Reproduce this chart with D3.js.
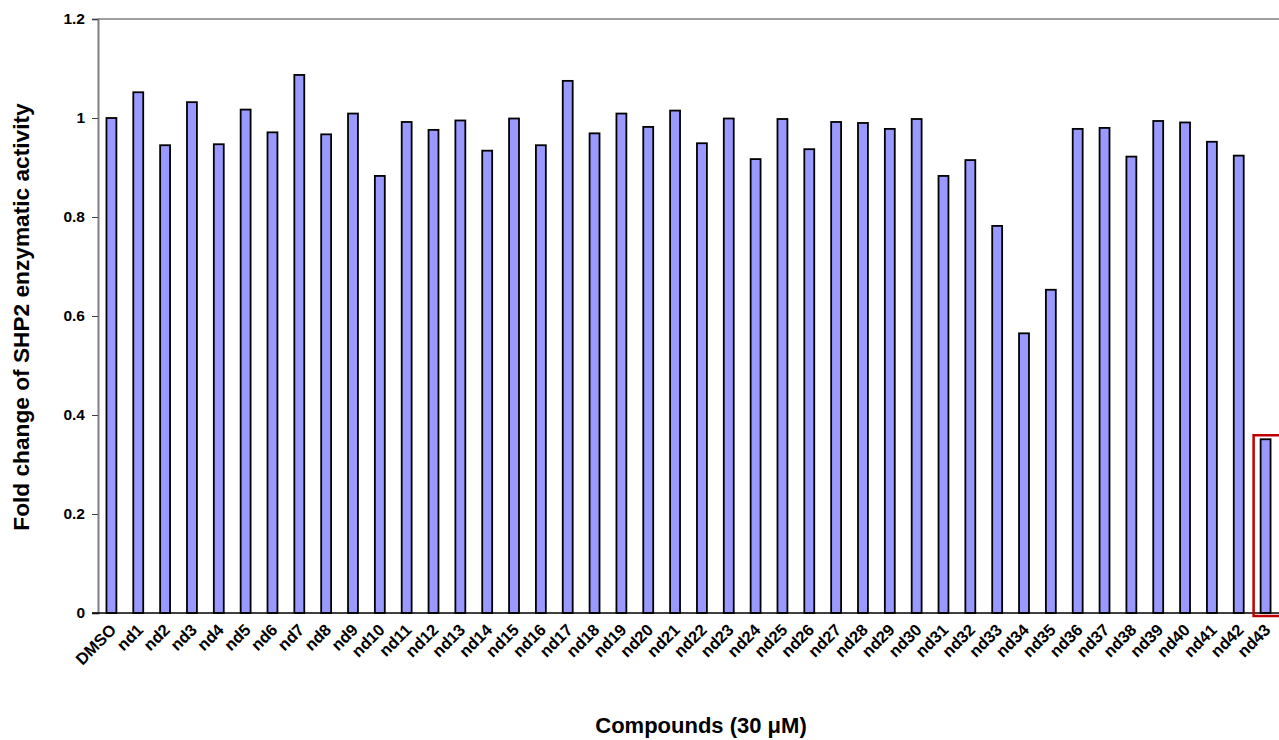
<!DOCTYPE html>
<html><head><meta charset="utf-8">
<script src="https://cdn.jsdelivr.net/npm/d3@7"></script>
<style>
body{margin:0;background:#fff;}
text{font-family:"Liberation Sans",Arial,sans-serif;font-weight:bold;}
</style></head>
<body><svg id="c" width="1279" height="740"></svg>
<script>
const categories = ["DMSO","nd1","nd2","nd3","nd4","nd5","nd6","nd7","nd8","nd9","nd10","nd11","nd12","nd13","nd14","nd15","nd16","nd17","nd18","nd19","nd20","nd21","nd22","nd23","nd24","nd25","nd26","nd27","nd28","nd29","nd30","nd31","nd32","nd33","nd34","nd35","nd36","nd37","nd38","nd39","nd40","nd41","nd42","nd43"];
const values = [1.000,1.052,0.945,1.032,0.947,1.017,0.971,1.087,0.967,1.009,0.883,0.992,0.976,0.995,0.934,0.999,0.945,1.075,0.969,1.009,0.982,1.015,0.949,0.999,0.917,0.998,0.937,0.992,0.990,0.978,0.998,0.883,0.915,0.782,0.565,0.653,0.978,0.980,0.922,0.994,0.991,0.952,0.924,0.351];
const yTicks = [0,0.2,0.4,0.6,0.8,1,1.2];
const highlighted = ["nd43"];

const svg = d3.select("#c");
const mLeft = 98, mRight = 1279, mTop = 19, mBottom = 613;
const x = d3.scaleBand().domain(categories).range([mLeft, mRight]).paddingInner(0.63).paddingOuter(0.315);
const y = d3.scaleLinear().domain([0,1.2]).range([mBottom, mTop]);

// top frame line
svg.append("line").attr("x1",mLeft).attr("x2",mRight).attr("y1",mTop).attr("y2",mTop)
  .attr("stroke","#808080").attr("stroke-width",1.5);

// y axis
const ya = svg.append("g").attr("transform",`translate(${mLeft},0)`)
  .call(d3.axisLeft(y).tickValues(yTicks).tickSize(6).tickPadding(7).tickFormat(d3.format("")));
ya.select(".domain").attr("stroke","#808080").attr("stroke-width",2);
ya.selectAll(".tick line").attr("stroke","#404040").attr("stroke-width",1);
ya.selectAll(".tick text").attr("font-size",15.5).attr("fill","#000");

// bars
svg.append("g").selectAll("rect").data(values).join("rect")
  .attr("x",(d,i)=>x(categories[i]))
  .attr("y",d=>y(d))
  .attr("width",x.bandwidth())
  .attr("height",d=>y(0)-y(d))
  .attr("fill","#9999ff").attr("stroke","#000").attr("stroke-width",1.8);

// baseline
svg.append("line").attr("x1",mLeft-6).attr("x2",mRight).attr("y1",y(0)).attr("y2",y(0))
  .attr("stroke","#000").attr("stroke-width",1.5);

// x labels
svg.append("g").selectAll("text").data(categories).join("text")
  .attr("transform",d=>`translate(${x(d)+x.bandwidth()/2+6},${y(0)+18}) rotate(-45)`)
  .attr("text-anchor","end").attr("font-size",16.5).attr("fill","#000").text(d=>d);

// highlight box
highlighted.forEach(c=>{
  const i = categories.indexOf(c);
  svg.append("rect").attr("x",x(c)-7).attr("y",y(values[i])-4)
    .attr("width",x.bandwidth()+24).attr("height",y(0)-y(values[i])+7)
    .attr("fill","none").attr("stroke","#c00000").attr("stroke-width",2.5);
});

// axis titles
svg.append("text").attr("transform","translate(29,317) rotate(-90)")
  .attr("text-anchor","middle").attr("font-size",22.7).attr("fill","#000")
  .text("Fold change of SHP2 enzymatic activity");
svg.append("text").attr("x",701).attr("y",733).attr("text-anchor","middle")
  .attr("font-size",22).attr("fill","#000").text("Compounds (30 μM)");
</script></body></html>
